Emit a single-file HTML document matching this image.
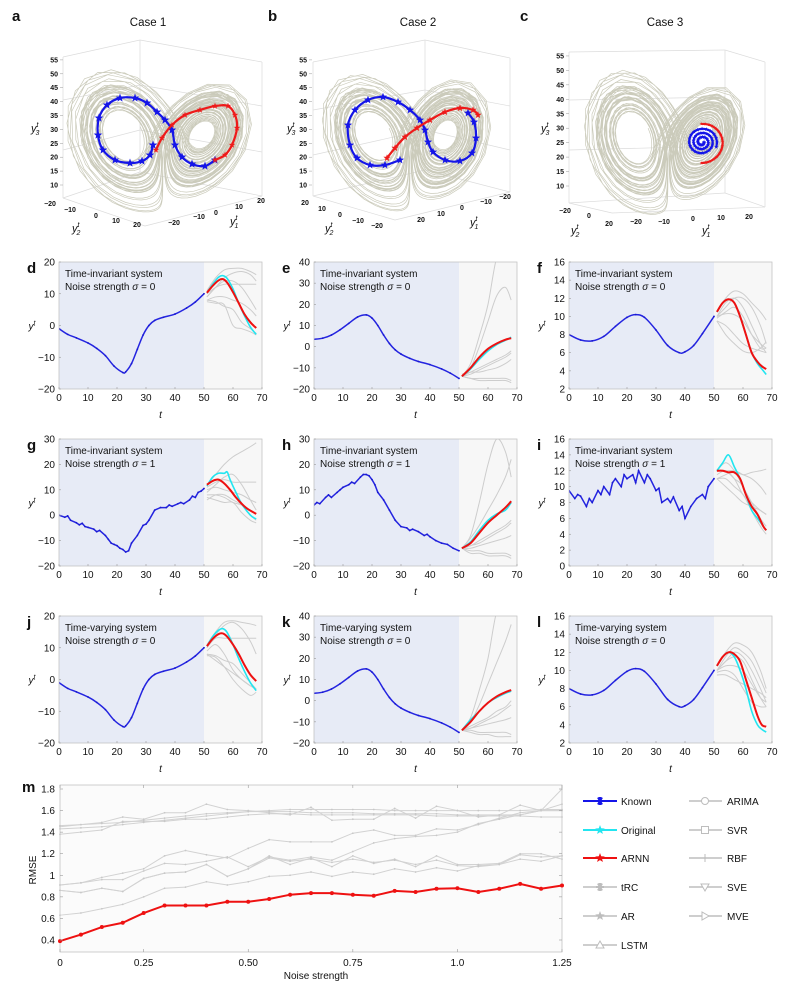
<!DOCTYPE html>
<html><head><meta charset="utf-8"><title>ARNN figure</title>
<style>
html,body{margin:0;padding:0;background:#fff;}
svg{display:block;font-family:"Liberation Sans",Arial,sans-serif;}
</style></head>
<body>
<svg id="fig" width="799" height="991" viewBox="0 0 799 991" xmlns="http://www.w3.org/2000/svg"></svg>
<script>
// ---------------- DATA ----------------
const gT=[51,54,57,60,63,66,68];
// panel d
const dKnownT=[0,3,6,10,13,16,19,22,23,25,27,29,31,33,36,40,44,47,50];
const dKnownY=[-1,-2.8,-3.9,-5.5,-7.2,-9.5,-12.8,-14.8,-14.6,-12,-7.5,-3,0,1.6,2.6,3.6,5.5,7.4,10];
const dRedT=[51,53,55,56.5,58,60,62,64,66,68];
const dRed=[10.3,12.5,14.2,14.6,13.5,10.5,7,3.5,1,-0.8];
const dCyan=[10.3,13,15.2,15.7,14.8,11.5,7,3,-0.5,-2.8];
const dGray=[[11,15,17.5,18,18,17,16],[9,12,15,16.5,17,16,14],[10,12,13,13,13,13,13],[8,9,9,8,7,5,3],[8,7.5,6,5,1,-1,-2.5],[7.5,7,6.5,0,-1,-2,-3],[9,12,14,14,12,8,5]];
// panel e
const eKnownT=[0,3,6,9,12,15,18,20,22,24,26,28,30,33,36,40,44,47,50];
const eKnownY=[3.5,4,5.5,8,11,14,15,13.5,10,5.5,1.5,-1.5,-3.5,-5.5,-7,-8.5,-10.5,-12.5,-15];
const eRed=[-14,-10,-5,-1,1.5,3.3,4];
const eCyan=[-14,-10.5,-6,-2,1,3,4.5];
const eGray=[[-14,-8,5,20,42,45,45],[-14,-10,0,12,24,28,22],[-14,-15,-15,-15,-15,-15,-16],[-14,-15,-16,-16,-16,-16,-17],[-14,-12,-10,-8,-6,-4,-2],[-13,-12,-12,-11,-10,-8,-6],[-14,-13,-11,-9,-7,-5,-3]];
// panel f
const fKnownT=[0,4,8,12,16,20,23,26,30,34,38,40,43,46,50];
const fKnownY=[8,7.4,7.3,7.8,8.9,9.9,10.2,9.9,8.5,6.8,6,6.1,6.8,8.1,10];
const fRedT=[51,53,55,57,59,61,63,65,66.5,68];
const fRed=[10.5,11.5,11.9,11.5,10,8,6,5,4.5,4.2];
const fCyan=[10.5,11.5,11.9,11.5,10,8,6,4.8,4.2,3.6];
const fGray=[[10.5,12,12.8,12.5,11.5,10.5,9.6],[10,11,12,12,11,9,7],[10,10.3,10.2,9.5,8,7,6.5],[9.5,9,8,7,6.5,6.2,6],[9.5,8,7,6.2,6,6.5,7.2],[10,11.5,12,11,9,7,6],[9.8,10.5,11,10,8,6.5,6.5]];
// panel g (noisy)
const gKnownT=[0,2,3,4,6,7,8,9,10,12,13,14,16,17,18,19,20,21,22,23,24,25,27,29,30,31,33,35,37,38,39,41,42,43,45,46,47,48,49,50];
const gKnownY=[0,-0.8,-0.3,-2,-3,-3.8,-3.2,-4.5,-4.8,-5.5,-6.5,-6,-8,-9.5,-11,-11.5,-12,-13,-13.5,-14.5,-14,-11,-8,-4,-3.5,-2,2,3,3,4,3.5,4.5,5,4.5,6,7.5,7,9,9.5,10.5];
const gRedT=[51,53,55,57,59,61,63,65,68];
const gRed=[12,13.5,14,12.5,10,7,4.5,2.5,0.5];
const gCyanT=[51,53,55,57,58,59,61,63,66,68];
const gCyan=[11.5,15,16.5,16.5,17,14,9,4.5,0,-1.5];
const gGray=[[12,16,20,23,25,27,28.5],[11,13,14,13,13,13,13],[10,11,10,9,8,6,5],[8,8,7,5,4,2,0.5],[7,6,5,5,1,-2,-3],[6,8,8,6,4,0,-2],[9,12,15,16,12,6,2]];
// panel h (noisy)
const hKnownT=[0,1,2,4,5,6,8,9,10,12,13,14,16,17,18,19,20,21,22,24,26,28,30,32,33,34,36,38,39,40,42,44,46,48,50];
const hKnownY=[4,5,4.5,7,8,7,9,10,11,12,13,12.5,15,16,16,15.5,14,12,9,6,2,-2,-4.5,-5,-6,-5.5,-6.5,-8,-7.5,-8.5,-10,-11,-11.5,-13,-14];
const hRed=[-13,-11,-7,-3,0,3,5.5];
const hCyan=[-13,-10.5,-6,-2,0.5,2,5];
const hGray=[[-13,-8,5,20,30,25,15],[-13,-9,-4,2,8,15,22],[-13,-14,-14,-15,-15,-15,-16],[-13,-13,-12,-11,-10,-9,-8],[-13,-12,-11,-9,-7,-5,-3],[-13,-12,-10,-8,-6,-4,-2],[-13,-15,-15,-16,-16,-16,-17]];
// panel i (noisy)
const iKnownT=[0,2,3,4,6,7,8,10,11,12,14,15,16,18,19,20,22,23,24,26,27,28,30,31,32,34,35,36,38,39,40,42,44,46,47,48,50];
const iKnownY=[9.5,8.5,9,8.8,7.5,8.5,8,9.5,9,10,9,10.5,11,10,11.5,11,11.5,10.5,12,10.5,11.5,11,9.5,9.8,8,8.5,8,8.7,7,7.5,6,7.5,8.5,9,8.5,10,11];
const iRedT=[51,53,55,57,59,61,63,65,67,68];
const iRed=[12,12,11.8,11.8,11,9,7.5,6.5,5,4.5];
const iCyan=[12,13,14,12.5,11,9,7,6,5,4.5];
const iGray=[[12,12,12,11.5,11.8,12,12.2],[11,11.5,12,11.5,11,10,9],[11,11,10,9,7,5.5,4.5],[12,12,11,10,7,5,4],[11.5,12,11,9,8,7,6.5],[11,10,9,8,7.5,7,6.5],[12,13,12,10,8,6,5]];
// panel j
const jKnownY=[-1,-2.8,-3.9,-5.5,-7.2,-9.5,-12.8,-14.8,-14.6,-12,-7.5,-3,0,1.6,2.6,3.6,5.5,7.4,10];
const jRed=[10.5,12.8,14.3,14.5,13.5,11,8,4.5,1.5,-0.5];
const jCyan=[10.5,13.5,15.5,16,14.8,11,6.5,2.5,-1,-3.5];
const jGray=[[11,15,18,18.5,18,17.5,17],[10,14,17,18,16,12,8],[10,13,13,13,13,13,13],[8,7.5,6,5,2,-1,-3],[7.5,7,4,0,-3,-5,-4],[9,11,8,3,0,-2,-3],[8,6,4,2,0,-2,-3]];
// panel k
const kKnownY=[3.5,4,5.5,8,11,14,15,13.5,10,5.5,1.5,-1.5,-3.5,-5.5,-7,-8.5,-10.5,-12.5,-15];
const kRed=[-14,-10,-5,-1,2,4,5];
const kCyan=[-14,-9,-5,-1,1.5,3.5,4.5];
const kGray=[[-14,-8,5,20,42,45,45],[-14,-10,-2,8,18,28,36],[-14,-14,-15,-15,-15,-15,-16],[-14,-13,-11,-9,-7,-4,-2],[-14,-12,-10,-8,-5,-3,0],[-14,-13,-12,-11,-10,-9,-8],[-14,-15,-16,-16,-17,-17,-17]];
// panel l
const lKnownY=[8,7.4,7.3,7.8,8.9,9.9,10.2,9.9,8.5,6.8,6,6.1,6.8,8.1,10];
const lRed=[10.5,11.5,12,11.8,11,9,7,5,4,3.8];
const lCyan=[10.5,11.5,12,11.5,10,8,5.5,4,3.5,3.2];
const lGray=[[10.5,12,13,12.8,12,10,8],[10,11.5,12.5,12,11,9,7.5],[10,10.5,10.5,10,8.5,7,6.5],[9.5,9.5,9,8.5,8,7.5,7],[10,11,11.5,11,9,7,6],[9.8,10,9.5,8,6.5,6,6],[10,11,12,11.5,10,8,6.5]];

// panel m
const mTickLabels=["0","0.25","0.50","0.75","1.0","1.25"];
const mTickIdx=[0,4,9,14,19,24];
const mYTicks=[0.4,0.6,0.8,1,1.2,1.4,1.6,1.8];
const mARNN=[0.39,0.45,0.52,0.56,0.65,0.72,0.72,0.72,0.755,0.755,0.78,0.82,0.835,0.835,0.82,0.81,0.855,0.845,0.875,0.88,0.845,0.875,0.92,0.875,0.905];
const mG1=[1.46,1.47,1.48,1.49,1.51,1.53,1.55,1.57,1.58,1.59,1.60,1.61,1.61,1.61,1.61,1.61,1.60,1.60,1.60,1.60,1.60,1.60,1.60,1.61,1.61];
const mG2=[1.45,1.47,1.49,1.54,1.52,1.58,1.58,1.66,1.61,1.60,1.58,1.56,1.63,1.51,1.52,1.52,1.62,1.53,1.64,1.60,1.54,1.56,1.65,1.60,1.80];
const mG3=[1.43,1.44,1.45,1.47,1.49,1.51,1.53,1.55,1.57,1.59,1.59,1.59,1.58,1.58,1.58,1.57,1.57,1.57,1.57,1.56,1.56,1.56,1.56,1.60,1.66];
const mG4=[1.38,1.40,1.42,1.50,1.50,1.50,1.52,1.52,1.54,1.56,1.57,1.57,1.56,1.56,1.56,1.56,1.56,1.56,1.55,1.55,1.55,1.55,1.55,1.54,1.54];
const mG5=[0.91,0.93,0.98,1.02,1.06,1.18,1.23,1.19,1.16,1.25,1.33,1.31,1.31,1.31,1.39,1.42,1.37,1.37,1.43,1.42,1.47,1.53,1.58,1.60,1.60];
const mG6=[0.91,0.93,0.96,0.96,1.04,1.11,1.10,1.13,1.17,1.08,1.17,1.14,1.17,1.14,1.22,1.30,1.34,1.36,1.37,1.40,1.48,1.52,1.56,1.60,1.60];
const mG7=[0.86,0.84,0.88,0.85,0.97,1.02,1.03,1.10,0.99,1.06,1.18,1.10,1.16,1.08,1.18,1.11,1.15,1.08,1.18,1.10,1.10,1.11,1.20,1.20,1.15];
const mG8=[0.86,0.84,0.88,0.85,0.97,1.02,1.03,1.10,0.99,1.06,1.16,1.13,1.15,1.12,1.15,1.12,1.14,1.10,1.14,1.09,1.08,1.10,1.19,1.17,1.18];
const mG9=[0.63,0.65,0.69,0.73,0.80,0.88,0.89,0.94,0.91,0.94,0.99,1.00,1.03,0.99,1.03,1.01,1.06,1.03,1.07,1.04,1.09,1.10,1.15,1.13,1.18];
const legendLabels1=["Known","Original","ARNN","tRC","AR","LSTM"];
const legendLabels2=["ARIMA","SVR","RBF","SVE","MVE"];

// ---------------- HELPERS ----------------
const NS="http://www.w3.org/2000/svg";
const svg=document.getElementById('fig');
function mk(tag,attrs,parent){const e=document.createElementNS(NS,tag);for(const k in attrs)e.setAttribute(k,attrs[k]);(parent||svg).appendChild(e);return e;}
function txt(s,x,y,size,anchor,parent,extra){const e=mk('text',Object.assign({x:x,y:y,'font-size':size,'text-anchor':anchor||'start',fill:'#111'},extra||{}),parent);e.textContent=s;return e;}
function crPath(pts){if(pts.length<2)return '';let d='M'+pts[0][0].toFixed(2)+','+pts[0][1].toFixed(2);
 for(let i=0;i<pts.length-1;i++){const p0=pts[Math.max(0,i-1)],p1=pts[i],p2=pts[i+1],p3=pts[Math.min(pts.length-1,i+2)];
 const c1=[p1[0]+(p2[0]-p0[0])/6,p1[1]+(p2[1]-p0[1])/6],c2=[p2[0]-(p3[0]-p1[0])/6,p2[1]-(p3[1]-p1[1])/6];
 d+=' C'+c1[0].toFixed(2)+','+c1[1].toFixed(2)+' '+c2[0].toFixed(2)+','+c2[1].toFixed(2)+' '+p2[0].toFixed(2)+','+p2[1].toFixed(2);}return d;}
function linPath(pts){return pts.map((p,i)=>(i?'L':'M')+p[0].toFixed(2)+','+p[1].toFixed(2)).join(' ');}
function starPts(cx,cy,r){let s=[];for(let i=0;i<10;i++){const a=-Math.PI/2+i*Math.PI/5,rr=i%2?r*0.42:r;s.push((cx+rr*Math.cos(a)).toFixed(1)+','+(cy+rr*Math.sin(a)).toFixed(1));}return s.join(' ');}

// ---------------- TIME SERIES PANELS ----------------
let clipN=0;
function tsPanel(c){
 const g=mk('g',{});
 
 
 const x0=c.x0,x1=c.x0+203,yT=c.yT,yB=c.yB;
 const sx=t=>x0+(t/70)*(x1-x0);
 const sy=v=>yB-(v-c.ymin)/(c.ymax-c.ymin)*(yB-yT);
 const bgR=mk('rect',{x:sx(50),y:yT,width:x1-sx(50),height:yB-yT,fill:'#f7f7f7'},g);
 
 
 const sh=mk('rect',{x:x0,y:yT,width:sx(50)-x0,height:yB-yT,fill:'#e7ebf6'},g);
 
 
 clipN++;const cp=mk('clipPath',{id:'cp'+clipN},g);mk('rect',{x:x0,y:yT,width:x1-x0,height:yB-yT},cp);
 const inner=mk('g',{'clip-path':'url(#cp'+clipN+')'},g);
 c.grays.forEach((arr,gi)=>{
  const pts=gT.map((t,i)=>[sx(t),sy(arr[i])]);
  const p=mk('path',{d:crPath(pts),fill:'none',stroke:'#cdcdcd','stroke-width':1},inner);
  
  
 });
 const kp=c.knownT.map((t,i)=>[sx(t),sy(c.knownY[i])]);
 const kl=mk('path',{d:c.noisy?linPath(kp):crPath(kp),fill:'none',stroke:'#2424e0','stroke-width':1.5},inner);
 
 
 kp.forEach(p=>{const d=mk('circle',{cx:p[0],cy:p[1],r:0.9,fill:'#1a1ad0'},inner);
  
  });
 const cp2=c.cyanT.map((t,i)=>[sx(t),sy(c.cyan[i])]);
 const cl=mk('path',{d:crPath(cp2),fill:'none',stroke:'#22e5f0','stroke-width':1.6},inner);
 
 
 const rp=c.redT.map((t,i)=>[sx(t),sy(c.red[i])]);
 const rl=mk('path',{d:crPath(rp),fill:'none',stroke:'#ee1111','stroke-width':2},inner);
 
 
 const box=mk('rect',{x:x0,y:yT,width:x1-x0,height:yB-yT,fill:'none',stroke:'#c4c4c4','stroke-width':0.8},g);
 
 
 for(let t=0;t<=70;t+=10){const l=txt(String(t),sx(t),yB+12,10,'middle',g);
  
  
  mk('line',{x1:sx(t),x2:sx(t),y1:yB,y2:yB-2,stroke:'#999','stroke-width':0.6},g);}
 c.yticks.forEach(v=>{const l=txt(v<0?'\u2212'+(-v):String(v),x0-4,sy(v)+3.5,10,'end',g);
  
  
  mk('line',{x1:x0,x2:x0+2,y1:sy(v),y2:sy(v),stroke:'#999','stroke-width':0.6},g);});
 const xt=txt('t',(x0+x1)/2,yB+29,10,'middle',g,{'font-style':'italic'});
 
 
 const yl=mk('text',{x:x0-27,y:(yT+yB)/2+4,'font-size':10,'font-style':'italic','text-anchor':'middle',fill:'#111'},g);
 
 
 yl.appendChild(document.createTextNode('y'));const ts=mk('tspan',{dy:-4,'font-size':7},yl);ts.textContent='t';
 const l1=txt(c.sys,x0+6,yT+15,10,'start',g);
 
 
 const l2=mk('text',{x:x0+6,y:yT+28,'font-size':10,fill:'#111'},g);
 
 
 l2.appendChild(document.createTextNode('Noise strength '));const sg=mk('tspan',{'font-style':'italic'},l2);sg.textContent='σ';l2.appendChild(document.createTextNode(' = '+c.sigma));
 const lt=txt(c.letter,x0-32,yT+11,15,'start',g,{'font-weight':'bold'});
 
 
}
const cols=[59,314,569];
const rows=[[262,389],[439,566],[616,743]];
const TI='Time-invariant system',TV='Time-varying system';
tsPanel({letter:'d',x0:cols[0],yT:rows[0][0],yB:rows[0][1],ymin:-20,ymax:20,yticks:[-20,-10,0,10,20],knownT:dKnownT,knownY:dKnownY,redT:dRedT,red:dRed,cyanT:dRedT,cyan:dCyan,grays:dGray,sys:TI,sigma:0});
tsPanel({letter:'e',x0:cols[1],yT:rows[0][0],yB:rows[0][1],ymin:-20,ymax:40,yticks:[-20,-10,0,10,20,30,40],knownT:eKnownT,knownY:eKnownY,redT:gT,red:eRed,cyanT:gT,cyan:eCyan,grays:eGray,sys:TI,sigma:0});
tsPanel({letter:'f',x0:cols[2],yT:rows[0][0],yB:rows[0][1],ymin:2,ymax:16,yticks:[2,4,6,8,10,12,14,16],knownT:fKnownT,knownY:fKnownY,redT:fRedT,red:fRed,cyanT:fRedT,cyan:fCyan,grays:fGray,sys:TI,sigma:0});
tsPanel({letter:'g',x0:cols[0],yT:rows[1][0],yB:rows[1][1],ymin:-20,ymax:30,yticks:[-20,-10,0,10,20,30],knownT:gKnownT,knownY:gKnownY,noisy:true,redT:gRedT,red:gRed,cyanT:gCyanT,cyan:gCyan,grays:gGray,sys:TI,sigma:1});
tsPanel({letter:'h',x0:cols[1],yT:rows[1][0],yB:rows[1][1],ymin:-20,ymax:30,yticks:[-20,-10,0,10,20,30],knownT:hKnownT,knownY:hKnownY,noisy:true,redT:gT,red:hRed,cyanT:gT,cyan:hCyan,grays:hGray,sys:TI,sigma:1});
tsPanel({letter:'i',x0:cols[2],yT:rows[1][0],yB:rows[1][1],ymin:0,ymax:16,yticks:[0,2,4,6,8,10,12,14,16],knownT:iKnownT,knownY:iKnownY,noisy:true,redT:iRedT,red:iRed,cyanT:iRedT,cyan:iCyan,grays:iGray,sys:TI,sigma:1});
tsPanel({letter:'j',x0:cols[0],yT:rows[2][0],yB:rows[2][1],ymin:-20,ymax:20,yticks:[-20,-10,0,10,20],knownT:dKnownT,knownY:jKnownY,redT:dRedT,red:jRed,cyanT:dRedT,cyan:jCyan,grays:jGray,sys:TV,sigma:0});
tsPanel({letter:'k',x0:cols[1],yT:rows[2][0],yB:rows[2][1],ymin:-20,ymax:40,yticks:[-20,-10,0,10,20,30,40],knownT:eKnownT,knownY:kKnownY,redT:gT,red:kRed,cyanT:gT,cyan:kCyan,grays:kGray,sys:TV,sigma:0});
tsPanel({letter:'l',x0:cols[2],yT:rows[2][0],yB:rows[2][1],ymin:2,ymax:16,yticks:[2,4,6,8,10,12,14,16],knownT:fKnownT,knownY:lKnownY,redT:fRedT,red:lRed,cyanT:fRedT,cyan:lCyan,grays:lGray,sys:TV,sigma:0});

// ---------------- 3D LORENZ PANELS ----------------
const lor=[];(function(){let x=1,y=1,z=20;const dt=0.01;
 const f=(x,y,z)=>[10*(y-x),x*(28-z)-y,x*y-8/3*z];
 for(let i=0;i<9000;i++){const k1=f(x,y,z),k2=f(x+dt/2*k1[0],y+dt/2*k1[1],z+dt/2*k1[2]),k3=f(x+dt/2*k2[0],y+dt/2*k2[1],z+dt/2*k2[2]),k4=f(x+dt*k3[0],y+dt*k3[1],z+dt*k3[2]);
 x+=dt/6*(k1[0]+2*k2[0]+2*k3[0]+k4[0]);y+=dt/6*(k1[1]+2*k2[1]+2*k3[1]+k4[1]);z+=dt/6*(k1[2]+2*k2[2]+2*k3[2]+k4[2]);
 if(i>300&&i%3===0)lor.push([x,y,z]);}})();
// star trajectories (screen-space paths of the highlighted segments)
const aBlue=[[153,145],[150,155],[142,161],[130,163],[115,160],[103,150],[98,135],[99,118],[107,105],[120,98],[135,98],[147,103],[157,112],[165,120],[172,130],[175,145],[182,157],[192,164],[205,166],[215,160]];
const aRed=[[156,150],[162,138],[172,125],[185,115],[200,110],[215,106],[228,106],[235,115],[237,128],[232,145],[225,155],[215,160]];
const bBlue=[[400,160],[385,165],[370,165],[357,158],[350,145],[348,125],[355,110],[368,100],[383,97],[398,102],[410,110],[420,120],[425,130],[428,142],[433,152],[445,160],[460,161],[472,153],[476,138],[474,122],[468,113]];
const bRed=[[387,158],[395,148],[405,137],[417,128],[430,120],[445,112],[460,108],[473,110],[478,115]];

function panel3d(c){
 const g=mk('g',{});
 
 
 c.box.forEach(l=>{const ln=mk('line',{x1:l[0],y1:l[1],x2:l[2],y2:l[3],stroke:'#dcdcdc','stroke-width':0.7},g);
  
  });
 const pts=lor.map(p=>c.proj(p));
 const at=mk('path',{d:linPath(pts),fill:'none',stroke:'#cbcbbb','stroke-width':0.7},g);
 
 
 for(let z=10;z<=55;z+=5){const y=c.z0-(z-10)*c.zs;
  const l=txt(String(z),c.zx-4,y+2.5,7,'end',g,{'font-weight':'bold'});
  
  
  mk('line',{x1:c.zx-2,x2:c.zx+1,y1:y,y2:y,stroke:'#999','stroke-width':0.5},g);}
 c.ticks.forEach(t=>{const l=txt(t[0],t[1],t[2],7,'middle',g,{'font-weight':'bold'});
  
  });
 c.titles.forEach(t=>{const e=mk('text',{x:t[1],y:t[2],'font-size':11,'font-style':'italic',fill:'#111'},g);
  
  
  e.appendChild(document.createTextNode('y'));const a=mk('tspan',{dy:-5,'font-size':7},e);a.textContent='t';const b=mk('tspan',{dy:8,'font-size':7,dx:-3},e);b.textContent=t[0];});
 const ti=txt(c.title,c.tx,26,11.5,'middle',g);
 
 
 const lt=txt(c.letter,c.lx,21,15,'start',g,{'font-weight':'bold'});
 
 
 c.stars.forEach(s=>{
  const p=mk('path',{d:crPath(s.pts),fill:'none',stroke:s.col,'stroke-width':2.2},g);
  
  
  s.pts.forEach((q,i)=>{if(i%s.every)return;const st=mk('polygon',{points:starPts(q[0],q[1],s.r),fill:s.col},g);
   
   });
 });
}
panel3d({letter:'a',lx:12,title:'Case 1',tx:148,zx:62,z0:185,zs:2.78,
 proj:p=>[163+2.3*(p[0]+p[1]),224-3.3*p[2]+0.25*(p[0]-p[1])],
 box:[[63,57,63,198],[63,198,145,226],[145,226,262,196],[262,196,262,62],[63,57,140,40],[140,40,262,62],[140,40,140,172],[63,198,140,172],[140,172,262,196],[63,100,140,85],[140,85,262,106],[63,150,140,130],[140,130,262,152]],
 ticks:[['\u221220',50,206],['\u221210',70,212],['0',96,218],['10',116,223],['20',137,227],['\u221220',174,225],['\u221210',199,219],['0',216,215],['10',239,209],['20',261,203]],
 titles:[['3',31,132],['2',72,232],['1',230,225]],
 stars:[{name:'known',col:'#1515e8',pts:aBlue,r:4.5,every:1},{name:'arnn',col:'#ee1a1a',pts:aRed,r:3.4,every:1}]});
panel3d({letter:'b',lx:268,title:'Case 2',tx:418,zx:311,z0:185,zs:2.78,
 proj:p=>[410+2.1*(p[0]+p[1]),224-3.3*p[2]-0.2*(p[0]-p[1])],
 box:[[313,62,313,196],[313,196,395,220],[395,220,510,192],[510,192,510,58],[313,62,425,40],[425,40,510,58],[425,40,425,170],[313,196,425,170],[425,170,510,192],[313,110,425,90],[425,90,510,106],[313,155,425,130],[425,130,510,150]],
 ticks:[['20',305,205],['10',322,211],['0',340,217],['\u221210',358,223],['\u221220',377,228],['20',421,222],['10',441,216],['0',462,210],['\u221210',486,204],['\u221220',505,199]],
 titles:[['3',287,132],['2',325,232],['1',470,226]],
 stars:[{name:'known',col:'#1515e8',pts:bBlue,r:4.3,every:1},{name:'arnn',col:'#ee1a1a',pts:bRed,r:3.8,every:1}]});
// panel c spiral (polar data around right fixed point)
const cSpA=[], cSpR=[];for(let i=0;i<=60;i++){cSpA.push(i*0.32);cSpR.push(2+i*0.22);}
const cRedA=[],cRedR=[];for(let i=0;i<=16;i++){cRedA.push(-1.6+i*0.2);cRedR.push(19+i*0.2);}
const cBlue=cSpA.map((a,i)=>[702+cSpR[i]*Math.cos(a),142+cSpR[i]*0.95*Math.sin(a)]);
const cRed=cRedA.map((a,i)=>[702+cRedR[i]*Math.cos(a),142+cRedR[i]*0.95*Math.sin(a)]);
panel3d({letter:'c',lx:520,title:'Case 3',tx:665,zx:568,z0:186,zs:2.89,
 proj:p=>[668+2.0*(p[0]+p[1]),226-3.3*p[2]+0.4*(p[0]-p[1])],
 box:[[569,52,569,203],[569,203,612,213],[612,213,765,207],[765,207,765,62],[569,52,725,50],[725,50,765,62],[725,50,725,193],[569,203,725,193],[725,193,765,207],[569,100,725,97],[569,150,725,146]],
 ticks:[['\u221220',565,213],['0',589,218],['20',609,226],['\u221220',636,224],['\u221210',664,224],['0',693,221],['10',721,220],['20',749,219]],
 titles:[['3',541,132],['2',571,234],['1',702,234]],
 stars:[{name:'known',col:'#1515e8',pts:cBlue,r:2.2,every:1},{name:'arnn',col:'#ee1a1a',pts:cRed,r:1.8,every:1}]});

// ---------------- PANEL M ----------------
(function(){
 const g=mk('g',{});
 
 
 const X0=60,X1=562,YT=785,YB=952;
 const sx=i=>X0+i*(X1-X0)/24;
 const sy=v=>789+(1.8-v)*151/1.4;
 const bg=mk('rect',{x:X0,y:YT,width:X1-X0,height:YB-YT,fill:'#fbfbfb',stroke:'#c4c4c4','stroke-width':0.8},g);
 
 
 [mG1,mG2,mG3,mG4,mG5,mG6,mG7,mG8,mG9].forEach(arr=>{
  const pts=arr.map((v,i)=>[sx(i),sy(v)]);
  const p=mk('path',{d:linPath(pts),fill:'none',stroke:'#d2d2d2','stroke-width':1},g);
  
  
  pts.forEach(q=>{const d=mk('circle',{cx:q[0],cy:q[1],r:0.9,fill:'#c8c8c8'},g);
   
   });
 });
 const rp=mARNN.map((v,i)=>[sx(i),sy(v)]);
 const rl=mk('path',{d:linPath(rp),fill:'none',stroke:'#ee1111','stroke-width':2},g);
 
 
 rp.forEach(q=>{const s=mk('circle',{cx:q[0],cy:q[1],r:2,fill:'#ee1111'},g);
  
  });
 mYTicks.forEach(v=>{const l=txt(v===1?'1':String(v),X0-5,sy(v)+3.5,10,'end',g);
  
  
  mk('line',{x1:X0,x2:X0+3,y1:sy(v),y2:sy(v),stroke:'#999','stroke-width':0.6},g);
  mk('line',{x1:X1,x2:X1-3,y1:sy(v),y2:sy(v),stroke:'#999','stroke-width':0.6},g);});
 mTickIdx.forEach((ix,k)=>{const l=txt(mTickLabels[k],sx(ix),YB+14,10,'middle',g);
  
  
  mk('line',{x1:sx(ix),x2:sx(ix),y1:YB,y2:YB-3,stroke:'#999','stroke-width':0.6},g);
  mk('line',{x1:sx(ix),x2:sx(ix),y1:YT,y2:YT+3,stroke:'#999','stroke-width':0.6},g);});
 const xt=txt('Noise strength',(X0+X1)/2+5,979,10,'middle',g);
 
 
 const yt=txt('RMSE',36,870,10,'middle',g,{transform:'rotate(-90 36 870)'});
 
 
 const lt=txt('m',22,792,15,'start',g,{'font-weight':'bold'});
 
 
 const lg=mk('g',{},g);
 
 
 const rowsY=[801,830,858,887,916,945];
 const c1col=['#1515e8','#22e5f0','#ee1111','#bdbdbd','#bdbdbd','#bdbdbd'];
 const c1mk=['ast','star','star','ast','star','tri'];
 function marker(type,x,y,col,parent){
  if(type==='star')return mk('polygon',{points:starPts(x,y,5),fill:col},parent);
  if(type==='ast'){const gg=mk('g',{stroke:col,'stroke-width':2},parent);for(let a=0;a<3;a++){const an=a*Math.PI/3;mk('line',{x1:x-4*Math.cos(an),y1:y-4*Math.sin(an),x2:x+4*Math.cos(an),y2:y+4*Math.sin(an)},gg);}mk('line',{x1:x,y1:y-4,x2:x,y2:y+4},gg);return gg;}
  if(type==='tri')return mk('polygon',{points:(x)+','+(y-4)+' '+(x-4)+','+(y+3)+' '+(x+4)+','+(y+3),fill:'#fff',stroke:col,'stroke-width':1},parent);
  if(type==='circ')return mk('circle',{cx:x,cy:y,r:3.5,fill:'#fff',stroke:col,'stroke-width':1},parent);
  if(type==='sq')return mk('rect',{x:x-3.5,y:y-3.5,width:7,height:7,fill:'#fff',stroke:col,'stroke-width':1},parent);
  if(type==='plus'){const gg=mk('g',{stroke:col,'stroke-width':1},parent);mk('line',{x1:x-4,y1:y,x2:x+4,y2:y},gg);mk('line',{x1:x,y1:y-4,x2:x,y2:y+4},gg);return gg;}
  if(type==='dtri')return mk('polygon',{points:(x-4)+','+(y-3)+' '+(x+4)+','+(y-3)+' '+x+','+(y+4),fill:'#fff',stroke:col,'stroke-width':1},parent);
  if(type==='rtri')return mk('polygon',{points:(x-3)+','+(y-4)+' '+(x-3)+','+(y+4)+' '+(x+4)+','+y,fill:'#fff',stroke:col,'stroke-width':1},parent);
 }
 legendLabels1.forEach((lab,i)=>{const e=mk('g',{},lg);
  
  
  mk('line',{x1:583,x2:617,y1:rowsY[i],y2:rowsY[i],stroke:c1col[i],'stroke-width':i<3?2:1.5},e);
  marker(c1mk[i],600,rowsY[i],c1col[i],e);
  txt(lab,621,rowsY[i]+4,10,'start',e);});
 const c2mk=['circ','sq','plus','dtri','rtri'];
 legendLabels2.forEach((lab,i)=>{const e=mk('g',{},lg);
  
  
  mk('line',{x1:689,x2:722,y1:rowsY[i],y2:rowsY[i],stroke:'#bdbdbd','stroke-width':1.5},e);
  marker(c2mk[i],705,rowsY[i],'#bdbdbd',e);
  txt(lab,727,rowsY[i]+4,10,'start',e);});
})();
</script>
</body></html>
